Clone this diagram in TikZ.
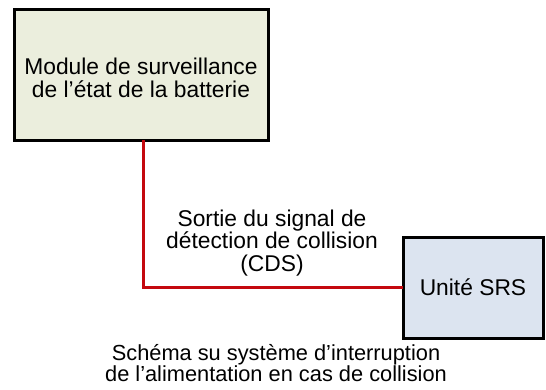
\documentclass[tikz,border=0pt]{standalone}
\usepackage{fontspec}
\setmainfont{Liberation Sans}
\definecolor{boxgreen}{RGB}{235,238,221}
\definecolor{boxblue}{RGB}{220,228,240}
\definecolor{wire}{RGB}{196,8,14}
\tikzset{
  blockbox/.style={draw=black, line width=3pt, inner sep=0pt},
  txt/.style={align=center, inner sep=0pt, font=\fontsize{22.8}{22.5}\selectfont},
  captxt/.style={align=center, inner sep=0pt, font=\fontsize{21.8}{21}\selectfont},
  wireline/.style={draw=wire, line width=3pt}
}
\begin{document}
\begin{tikzpicture}[x=1pt,y=-1pt]
\useasboundingbox (0,0) rectangle (546,389);
\filldraw[blockbox, fill=boxgreen] (14,9) rectangle (268,140);
\node[txt] (bms) at (141,78) {Module de surveillance\\de l’état de la batterie};
\coordinate (bmsbot) at (143,140);
\filldraw[blockbox, fill=boxblue] (403,237) rectangle (543,338);
\node[txt] (srs) at (473,287) {Unité SRS};
\coordinate (srsleft) at (403,287);
\draw[wireline] (bmsbot) |- (srsleft);
\node[txt] (lbl) at (272,243) {Sortie du signal de\\détection de collision\\(CDS)};
\node[captxt] (cap) at (276,363) {Schéma su système d’interruption\\de l’alimentation en cas de collision};
\end{tikzpicture}
\end{document}
